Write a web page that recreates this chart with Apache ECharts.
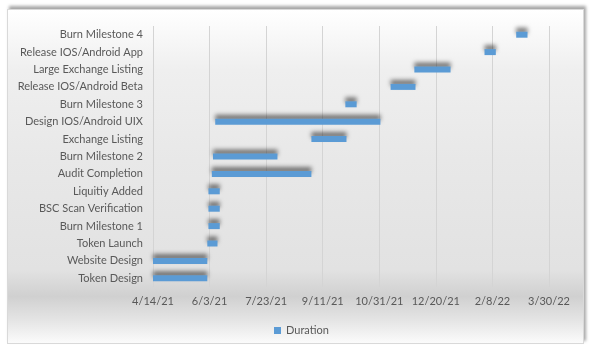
<!DOCTYPE html>
<html style="height: 100%">
<head>
	<meta charset="utf-8">
</head>
<body style="height: 100%; margin: 0; background: #fff">
<div id="frame" style="position: absolute; left: 7px; top: 9px; width: 575px; height: 333px; border: 1px solid #d9d9d9;
	box-shadow: 2px -3px 3px rgba(0,0,0,0.35);
	background: linear-gradient(to bottom, #ffffff 0%, #efefef 18%, #e8e8e8 45%, #e2e2e2 78%, #d0d0d0 86%, #e4e4e4 93%, #fbfbfb 100%);"></div>
<div id="container" style="position: absolute; left: 0; top: 0; width: 592px; height: 352px"></div>
<script type="text/javascript" src="https://cdn.jsdelivr.net/npm/echarts@6/dist/echarts.min.js"></script>
<script type="text/javascript">
	var tasks = [
		'Token Design', 'Website Design', 'Token Launch', 'Burn Milestone 1',
		'BSC Scan Verification', 'Liquitiy Added', 'Audit Completion', 'Burn Milestone 2',
		'Exchange Listing', 'Design IOS/Android UIX', 'Burn Milestone 3',
		'Release IOS/Android Beta', 'Large Exchange Listing', 'Release IOS/Android App',
		'Burn Milestone 4'
	];
	var startDates = [
		'2021-04-14', '2021-04-14', '2021-06-01', '2021-06-02',
		'2021-06-02', '2021-06-02', '2021-06-05', '2021-06-06',
		'2021-09-01', '2021-06-08', '2021-10-01',
		'2021-11-10', '2021-12-01', '2022-02-01',
		'2022-03-01'
	];
	var durations = [48, 48, 9, 10, 10, 10, 88, 57, 31, 146, 10, 22, 32, 10, 10];
	var axisStart = '2021-04-14';
	var axisDays = 350;   // to 3/30/22
	var tickDays = 50;

	var DAY = 86400000;
	function toMs(s) {
		var p = s.split('-');
		return Date.UTC(+p[0], +p[1] - 1, +p[2]);
	}
	var base = toMs(axisStart);
	var offsets = startDates.map(function (s) {
		return Math.round((toMs(s) - base) / DAY);
	});

	function dayLabel(v) {
		var d = new Date(base + v * DAY);
		return (d.getUTCMonth() + 1) + '/' + d.getUTCDate() + '/' + String(d.getUTCFullYear()).slice(2);
	}

	var textColor = '#595959';
	var font = 'Lato, "Open Sans", sans-serif';

	var myChart = echarts.init(document.getElementById('container'));
	var option = {
		backgroundColor: 'transparent',
		animation: false,
		textStyle: { fontFamily: font },
		grid: { left: 153, right: 43, top: 26, bottom: 65 },
		legend: {
			data: ['Duration'],
			left: 269, top: 320,
			icon: 'rect', itemWidth: 7, itemHeight: 7, itemGap: 5,
			textStyle: { color: textColor, fontSize: 11, fontFamily: font }
		},
		xAxis: {
			type: 'value',
			min: 0, max: axisDays, interval: tickDays,
			axisLine: { show: false },
			axisTick: { show: false },
			splitLine: { lineStyle: { color: '#d4d4d4', width: 1 } },
			axisLabel: {
				color: textColor, fontSize: 11, margin: 9,
				formatter: dayLabel
			}
		},
		yAxis: {
			type: 'category',
			data: tasks,
			axisLine: { show: false },
			axisTick: { show: false },
			axisLabel: { color: textColor, fontSize: 11, margin: 10 }
		},
		series: [{
			name: 'Start',
			type: 'bar',
			stack: 'gantt',
			barWidth: 6,
			itemStyle: { color: 'rgba(0,0,0,0)' },
			emphasis: { disabled: true },
			data: offsets
		}, {
			name: 'Duration',
			type: 'bar',
			stack: 'gantt',
			barWidth: 6,
			itemStyle: {
				color: '#5b9bd5',
				shadowColor: 'rgba(0,0,0,0.5)',
				shadowBlur: 4,
				shadowOffsetY: -4
			},
			data: durations
		}]
	};
	myChart.setOption(option);
</script>
</body>
</html>
